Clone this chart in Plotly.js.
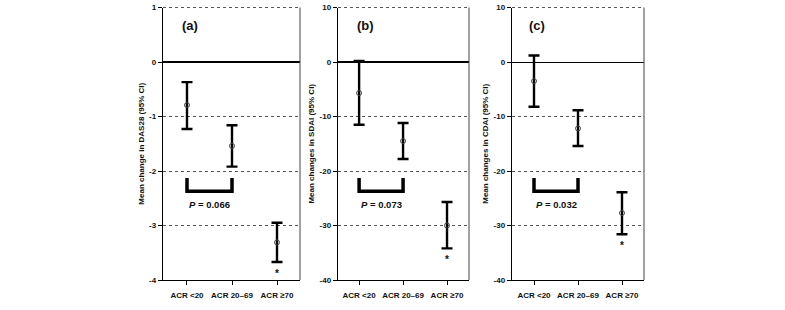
<!DOCTYPE html>
<html>
<head>
<meta charset="utf-8">
<script src="https://cdn.plot.ly/plotly-3.0.1.min.js"></script>
<style>html,body{margin:0;padding:0;background:#fff;}#chart{width:785px;height:310px;}</style>
</head>
<body>
<div id="chart"></div>
<script>
const categories = ['ACR <20', 'ACR 20–69', 'ACR ≥70'];

const das28Mean  = [-0.79, -1.54, -3.31];
const das28Upper = [-0.37, -1.16, -2.95];
const das28Lower = [-1.23, -1.92, -3.67];

const sdaiMean  = [-5.7, -14.5, -30.0];
const sdaiUpper = [0.2, -11.2, -25.7];
const sdaiLower = [-11.5, -17.8, -34.2];

const cdaiMean  = [-3.5, -12.2, -27.7];
const cdaiUpper = [1.2, -8.85, -23.9];
const cdaiLower = [-8.2, -15.4, -31.6];

const pValues = ['0.066', '0.073', '0.032'];
const panelLabels = ['(a)', '(b)', '(c)'];
const yTitles = ['Mean change in DAS28 (95% CI)', 'Mean changes in SDAI (95% CI)', 'Mean changes in CDAI (95% CI)'];

const das28Ticks = [1, 0, -1, -2, -3, -4];
const scoreTicks = [10, 0, -10, -20, -30, -40];
const das28TickText = ['1', '0', '-1', '-2', '-3', '-4'];
const scoreTickText = ['10', '0', '-10', '-20', '-30', '-40'];

const das28Bracket = [-2.13, -2.37];
const sdaiBracket  = [-21.3, -23.7];
const cdaiBracket  = [-21.3, -23.7];

const FONT = 'Liberation Sans, Arial, sans-serif';

const panels = [
  {mean: das28Mean, up: das28Upper, lo: das28Lower, ticks: das28Ticks, tt: das28TickText, br: das28Bracket,
   xdom: [163/785, 300/785], xr: [-0.533, 2.511], zw: 1.6},
  {mean: sdaiMean, up: sdaiUpper, lo: sdaiLower, ticks: scoreTicks, tt: scoreTickText, br: sdaiBracket,
   xdom: [338/785, 469/785], xr: [-0.48, 2.5], zw: 1.6},
  {mean: cdaiMean, up: cdaiUpper, lo: cdaiLower, ticks: scoreTicks, tt: scoreTickText, br: cdaiBracket,
   xdom: [512/785, 644/785], xr: [-0.5, 2.5], zw: 1}
];

const ydom = [1 - 280/310, 1 - 7.5/310];
const panelLabelX = [190/785, 365/785, 537/785];

const data = [];
const layout = {
  width: 785, height: 310,
  margin: {l: 0, r: 0, t: 0, b: 0},
  paper_bgcolor: '#fff', plot_bgcolor: '#fff',
  showlegend: false,
  font: {family: FONT, size: 8, color: '#111'},
  shapes: [], annotations: []
};

panels.forEach((p, i) => {
  const n = i === 0 ? '' : String(i + 1);
  const xa = 'x' + n, ya = 'y' + n;
  data.push({
    type: 'scatter', mode: 'markers', x: categories, y: p.mean,
    xaxis: xa, yaxis: ya,
    marker: {symbol: 'circle-open', size: 5, color: '#444', line: {width: 1, color: '#444'}},
    error_y: {type: 'data', symmetric: false,
      array: p.up.map((u, k) => u - p.mean[k]),
      arrayminus: p.mean.map((m, k) => m - p.lo[k]),
      color: '#000', thickness: 2.4, width: 5.5},
    cliponaxis: false, hoverinfo: 'skip'
  });
  data.push({
    type: 'scatter', mode: 'lines',
    x: [categories[0], categories[0], categories[1], categories[1]],
    y: [p.br[0], p.br[1], p.br[1], p.br[0]],
    xaxis: xa, yaxis: ya,
    line: {color: '#000', width: 3.5}, hoverinfo: 'skip'
  });
  layout['xaxis' + n] = {
    domain: p.xdom, anchor: ya, type: 'category', range: p.xr,
    showline: true, linecolor: '#000', linewidth: 1.3,
    ticks: 'outside', ticklen: 4, tickwidth: 1, tickcolor: '#000', ticklabelstandoff: 3,
    showgrid: false, zeroline: false, fixedrange: true,
    tickfont: {family: FONT, size: 8, color: '#111', weight: 'bold'}
  };
  layout['yaxis' + n] = {
    domain: ydom, anchor: xa, range: [p.ticks[p.ticks.length - 1], p.ticks[0]],
    tickmode: 'array', tickvals: p.ticks, ticktext: p.tt,
    showline: true, linecolor: '#000', linewidth: 1.3,
    ticks: 'outside', ticklen: 4, tickwidth: 1, tickcolor: '#000',
    showgrid: true, gridcolor: '#555', gridwidth: 1, griddash: '3px,3px',
    zeroline: true, zerolinecolor: '#000', zerolinewidth: p.zw,
    fixedrange: true,
    tickfont: {family: FONT, size: 8, color: '#111', weight: 'bold'},
    title: {text: yTitles[i], standoff: 3, font: {family: FONT, size: 8, color: '#111', weight: 'bold'}}
  };
  layout.shapes.push({type: 'line', xref: xa + ' domain', yref: ya + ' domain',
    x0: 1, x1: 1, y0: 0, y1: 1, line: {color: '#444', width: 1}});
  layout.shapes.push({type: 'line', xref: xa + ' domain', yref: ya + ' domain',
    x0: 0, x1: 1, y0: 1, y1: 1, line: {color: '#555', width: 1, dash: '3px,3px'}});
  layout.annotations.push({
    xref: xa, yref: ya, x: 0.5, y: p.br[1], yanchor: 'middle', yshift: -13.5,
    text: '<i>P</i> = ' + pValues[i], showarrow: false,
    font: {family: FONT, size: 9.5, color: '#111', weight: 'bold'}
  });
  layout.annotations.push({
    xref: xa, yref: ya, x: categories[2], y: p.lo[2], yanchor: 'middle', yshift: -11,
    text: '*', showarrow: false,
    font: {family: FONT, size: 10, color: '#111', weight: 'bold'}
  });
  layout.annotations.push({
    xref: 'paper', yref: 'paper', x: panelLabelX[i], y: 1 - 26/310, xanchor: 'center', yanchor: 'middle',
    text: panelLabels[i], showarrow: false,
    font: {family: FONT, size: 13, color: '#111', weight: 'bold'}
  });
});

Plotly.newPlot('chart', data, layout, {staticPlot: true, displayModeBar: false});
</script>
</body>
</html>
